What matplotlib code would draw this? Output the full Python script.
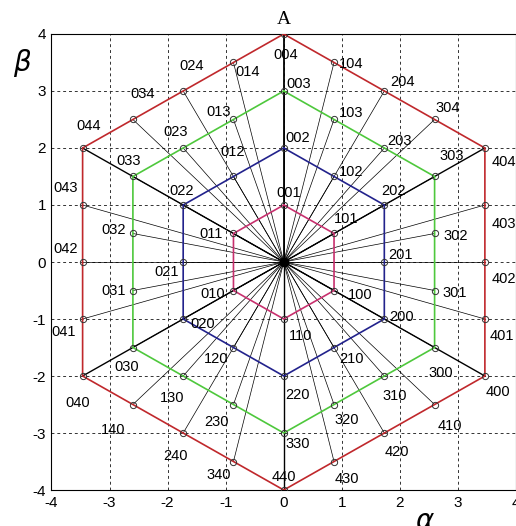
import numpy as np
import matplotlib
matplotlib.use('Agg')
import matplotlib.pyplot as plt

# switching states on each hexagon ring (a, b, c levels)
ring1 = ['001', '101', '100', '110', '010', '011']
ring2 = ['002', '102', '202', '201', '200', '210', '220', '120', '020',
         '021', '022', '012']
ring3 = ['003', '103', '203', '303', '302', '301', '300', '310', '320',
         '330', '230', '130', '030', '031', '032', '033', '023', '013']
ring4 = ['004', '104', '204', '304', '404', '403', '402', '401', '400',
         '410', '420', '430', '440', '340', '240', '140', '040', '041',
         '042', '043', '044', '034', '024', '014']
rings = [ring1, ring2, ring3, ring4]
ring_colors = ['#c8306e', '#22228c', '#4ec83c', '#c0282c']
corner_states = ['004', '404', '400', '440', '040', '044']
ticks = [-4, -3, -2, -1, 0, 1, 2, 3, 4]

# label offsets from the vector tip (layout only)
label_offsets = {
    '001': (0.08, 0.21), '101': (0.20, 0.26), '100': (0.45, -0.08),
    '110': (0.29, -0.30), '010': (-0.36, -0.06), '011': (-0.39, -0.01),
    '002': (0.24, 0.18), '102': (0.30, 0.08), '202': (0.15, 0.25),
    '201': (0.28, 0.12), '200': (0.30, 0.04), '210': (0.30, -0.21),
    '220': (0.24, -0.33), '120': (-0.30, -0.20), '020': (0.34, -0.08),
    '021': (-0.29, -0.18), '022': (-0.02, 0.24), '012': (-0.02, 0.43),
    '003': (0.25, 0.12), '103': (0.29, 0.12), '203': (0.26, 0.12),
    '303': (0.30, 0.36), '302': (0.37, -0.05), '301': (0.34, -0.04),
    '300': (0.11, -0.45), '310': (0.18, -0.35), '320': (0.22, -0.28),
    '330': (0.24, -0.20), '230': (-0.30, -0.31), '130': (-0.19, -0.39),
    '030': (-0.11, -0.34), '031': (-0.34, -0.01), '032': (-0.34, 0.06),
    '033': (-0.08, 0.28), '023': (-0.13, 0.28), '013': (-0.26, 0.14),
    '004': (0.04, -0.37), '104': (0.30, -0.03), '204': (0.32, 0.16),
    '304': (0.22, 0.20), '404': (0.32, -0.25), '403': (0.32, -0.33),
    '402': (0.32, -0.29), '401': (0.29, -0.29), '400': (0.22, -0.28),
    '410': (0.27, -0.37), '420': (0.22, -0.33), '430': (0.22, -0.30),
    '440': (0.00, 0.23), '340': (-0.26, -0.24), '240': (-0.14, -0.41),
    '140': (-0.34, -0.45), '040': (-0.09, -0.47), '041': (-0.32, -0.23),
    '042': (-0.30, 0.23), '043': (-0.29, 0.29), '044': (0.10, 0.39),
    '034': (0.17, 0.45), '024': (0.14, 0.44), '014': (0.25, -0.17),
}


def state_to_ab(s):
    a, b, c = (int(ch) for ch in s)
    x = (a - b) * np.sqrt(3) / 2
    y = c - (a + b) / 2
    return x, y


plt.rcParams['font.family'] = ['Liberation Sans', 'DejaVu Sans']
plt.rcParams['axes.unicode_minus'] = False

fig = plt.figure(figsize=(5.16, 5.26), dpi=100)
ax = fig.add_axes([0.0998, 0.0684, 0.9002, 0.8670])

# rays from the origin to every vector
for ring in rings:
    for s in ring:
        x, y = state_to_ab(s)
        if s in corner_states:
            lw = 1.3 if s == '004' else 1.0
        else:
            lw = 0.5
        ax.plot([0, x], [0, y], color='black', lw=lw, zorder=2)

# hexagons
for ring, col in zip(rings, ring_colors):
    pts = [state_to_ab(s) for s in ring] + [state_to_ab(ring[0])]
    xs = [p[0] for p in pts]
    ys = [p[1] for p in pts]
    ax.plot(xs, ys, color=col, lw=1.2, zorder=3)
    ax.plot(xs[:-1], ys[:-1], 'o', ms=4.5, mfc='none', mec='#333333',
            mew=0.7, zorder=4)
    for s in ring:
        x, y = state_to_ab(s)
        dx, dy = label_offsets[s]
        ax.text(x + dx, y + dy, s, fontsize=10.5, ha='center', va='center',
                zorder=5)

ax.plot([0], [0], 'o', ms=6, color='black', zorder=6)

ax.set_xlim(-4, 4)
ax.set_ylim(-4, 4)
ax.set_xticks(ticks)
ax.set_yticks(ticks)
ax.tick_params(labelsize=11, length=0, pad=4)
ax.grid(True, linestyle=(0, (3, 3)), color='#333333', lw=0.7)
ax.set_axisbelow(True)
for sp in ax.spines.values():
    sp.set_linewidth(0.8)

fig.text(284 / 516, 1 - 20 / 526, 'A', fontsize=14, family='Liberation Serif',
         ha='center', va='center')
fig.text(22 / 516, 1 - 63 / 526, r'$\beta$', fontsize=20, ha='center',
         va='center')
fig.text(425 / 516, 1 - 522 / 526, r'$\alpha$', fontsize=20, ha='center',
         va='center')

plt.savefig('out.png', dpi=100)
plt.close()
